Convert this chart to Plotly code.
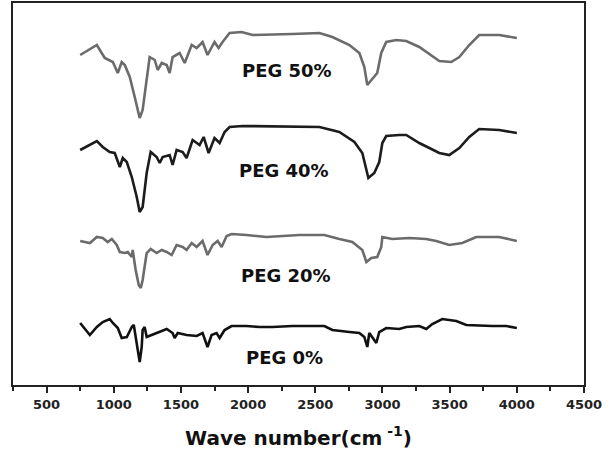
import plotly.graph_objects as go

# ---- data (wavenumber in cm^-1, offset transmittance in arbitrary units) ----
wn_50 = [750, 874, 933, 993, 1030, 1059, 1082, 1119, 1156, 1193, 1215, 1245, 1267, 1305, 1327, 1357, 1394, 1416,
         1438, 1490, 1528, 1580, 1617, 1661, 1698, 1750, 1780, 1810, 1862, 1951, 2033, 2330, 2531, 2627, 2754, 2828,
         2865, 2887, 2917, 2961, 2991, 3028, 3103, 3177, 3274, 3423, 3512, 3572, 3646, 3720, 3869, 4000]
t_50 = [330, 340, 327, 323, 312, 323, 320, 308, 288, 267, 275, 305, 328, 325, 315, 322, 320, 312,
        328, 332, 322, 340, 337, 343, 330, 343, 337, 343, 352, 353, 350, 351, 352, 348, 340, 332,
        318, 300, 305, 312, 332, 343, 345, 344, 338, 324, 323, 328, 340, 350, 350, 347]

wn_40 = [750, 874, 918, 970, 1007, 1045, 1067, 1097, 1134, 1171, 1193, 1215, 1245, 1275, 1319, 1342, 1364, 1416,
         1438, 1468, 1513, 1542, 1587, 1639, 1669, 1706, 1750, 1788, 1825, 1862, 1959, 2531, 2679, 2791, 2850,
         2880, 2895, 2939, 2976, 2999, 3028, 3125, 3177, 3274, 3423, 3497, 3572, 3646, 3720, 3869, 4000]
t_40 = [235, 244, 238, 233, 232, 218, 227, 223, 208, 188, 173, 178, 212, 233, 228, 222, 228, 230,
        220, 235, 233, 227, 245, 240, 248, 232, 247, 242, 253, 258, 259, 258, 253, 243, 232,
        213, 207, 212, 223, 242, 249, 250, 250, 242, 232, 230, 237, 248, 256, 255, 252]

wn_20 = [750, 822, 874, 918, 955, 985, 1022, 1045, 1082, 1104, 1134, 1141, 1163, 1186, 1201, 1215, 1245, 1275,
         1319, 1357, 1394, 1431, 1468, 1513, 1542, 1580, 1617, 1661, 1698, 1736, 1773, 1803, 1840, 1877, 1988,
         2137, 2382, 2568, 2679, 2776, 2850, 2880, 2917, 2961, 2991, 2999, 3073, 3200, 3326, 3400, 3497, 3594,
         3698, 3869, 4000]
t_20 = [144, 142, 148, 147, 143, 146, 140, 133, 132, 133, 128, 135, 115, 100, 97, 105, 132, 136,
        132, 135, 133, 130, 140, 138, 135, 142, 138, 144, 130, 140, 144, 138, 149, 151, 150,
        148, 150, 150, 146, 143, 135, 123, 127, 128, 138, 148, 146, 147, 146, 144, 140, 142,
        148, 148, 144]

wn_0 = [750, 822, 874, 918, 970, 993, 1030, 1059, 1097, 1134, 1149, 1163, 1178, 1193, 1208, 1215, 1230, 1245,
        1282, 1342, 1394, 1438, 1453, 1476, 1542, 1617, 1661, 1698, 1728, 1765, 1788, 1825, 1877, 1988, 2085,
        2182, 2330, 2568, 2627, 2754, 2828, 2865, 2880, 2887, 2902, 2924, 2954, 2976, 3028, 3125, 3177, 3274,
        3326, 3371, 3445, 3549, 3624, 3817, 3921, 4000]
t_0 = [62, 50, 58, 63, 66, 62, 57, 47, 48, 58, 60, 48, 35, 23, 38, 55, 58, 48,
       50, 53, 56, 52, 47, 52, 50, 49, 52, 38, 50, 52, 47, 55, 59, 59, 58,
       58, 59, 59, 55, 53, 52, 48, 42, 38, 52, 48, 42, 53, 57, 56, 58, 59,
       56, 61, 66, 64, 60, 59, 59, 57]

series_names = ["PEG 50%", "PEG 40%", "PEG 20%", "PEG 0%"]
series_x = [wn_50, wn_40, wn_20, wn_0]
series_y = [t_50, t_40, t_20, t_0]
series_colors = ["#6b6b6b", "#1c1c1c", "#6b6b6b", "#111111"]

label_x = [2290, 2270, 2280, 2270]
label_y = [315, 215, 110, 28]

tick_vals = [500, 1000, 1500, 2000, 2500, 3000, 3500, 4000, 4500]
tick_text = [str(v) for v in tick_vals]

FONT = "DejaVu Sans"

fig = go.Figure()
for name, xs, ys, col in zip(series_names, series_x, series_y, series_colors):
    fig.add_trace(go.Scatter(x=xs, y=ys, mode="lines", name=name,
                             line=dict(color=col, width=2.6), showlegend=False))

for name, lx, ly in zip(series_names, label_x, label_y):
    fig.add_annotation(x=lx, y=ly, text="<b>%s</b>" % name, showarrow=False,
                       font=dict(family=FONT, size=18, color="#111111"))

fig.update_layout(
    width=614, height=458,
    margin=dict(l=13, r=30, t=3, b=73),
    plot_bgcolor="white", paper_bgcolor="white",
    font=dict(family=FONT, color="#111111"),
    showlegend=False,
)

fig.update_xaxes(
    automargin=False,
    range=[250, 4500],
    tickvals=tick_vals, ticktext=["<b>%s</b>" % t for t in tick_text],
    ticks="outside", ticklen=6, tickwidth=1.5, tickcolor="#222",
    minor=dict(dtick=250, tick0=250, ticks="outside", ticklen=4, tickwidth=1.5, tickcolor="#222"),
    tickfont=dict(family=FONT, size=13, color="#222"),
    showline=True, linecolor="#222", linewidth=2, mirror=True,
    showgrid=False, zeroline=False,
    title=dict(text="<b>Wave number(cm<sup> -1</sup>)</b>", font=dict(family=FONT, size=20, color="#111"),
               standoff=20),
)
fig.update_yaxes(
    automargin=False,
    range=[0, 382],
    showticklabels=False, ticks="",
    showline=True, linecolor="#222", linewidth=2, mirror=True,
    showgrid=False, zeroline=False,
)

fig.write_html("out.html", config={"displayModeBar": False},
               post_script="document.body.style.margin='0';")
